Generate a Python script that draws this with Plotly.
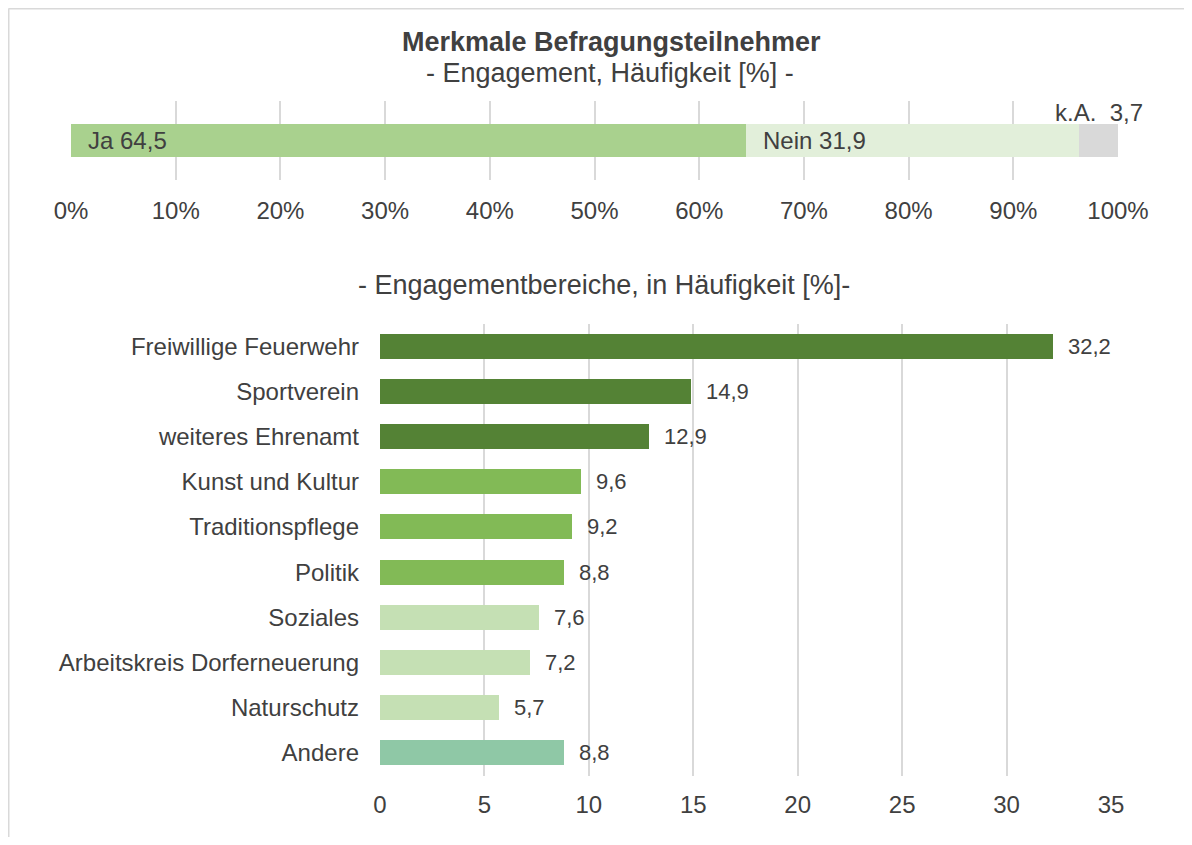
import plotly.graph_objects as go

# --- data ---------------------------------------------------------------
engagement_names = ["Ja", "Nein", "k.A."]
engagement_values = [64.5, 31.9, 3.7]
engagement_colors = ["#A9D18E", "#E2EFDA", "#D9D9D9"]

bereiche = ["Freiwillige Feuerwehr", "Sportverein", "weiteres Ehrenamt",
            "Kunst und Kultur", "Traditionspflege", "Politik", "Soziales",
            "Arbeitskreis Dorferneuerung", "Naturschutz", "Andere"]
bereiche_values = [32.2, 14.9, 12.9, 9.6, 9.2, 8.8, 7.6, 7.2, 5.7, 8.8]
bereiche_colors = ["#548235", "#548235", "#548235",
                   "#82BA56", "#82BA56", "#82BA56",
                   "#C5E0B4", "#C5E0B4", "#C5E0B4",
                   "#8FC8A6"]

top_ticks = [0, 10, 20, 30, 40, 50, 60, 70, 80, 90, 100]
top_ticktext = [f"{t}%" for t in top_ticks]
bottom_ticks = [0, 5, 10, 15, 20, 25, 30, 35]

# page body has an 8px margin, so the figure is the window minus 16px
W, H = 1176, 829
OFF = 8
FONT = "Liberation Sans, Arial, sans-serif"
TXT = "#404040"
GRID = "#D9D9D9"


def px(x):
    return (x - OFF) / W


def py(y):
    return 1 - (y - OFF) / H


def de(v):
    # german decimal comma
    return f"{v:.1f}".replace(".", ",")


fig = go.Figure()

# --- top: 100% stacked bar ---------------------------------------------
total = sum(engagement_values)
cum = 0
for name, val, col in zip(engagement_names, engagement_values, engagement_colors):
    share = val / total * 100
    fig.add_trace(go.Bar(
        x=[share], y=["Engagement"], orientation="h",
        marker=dict(color=col, line=dict(width=0)),
        width=0.43, name=name, xaxis="x", yaxis="y",
        hoverinfo="skip",
    ))
    if name == "k.A.":
        # label sits above its small segment
        fig.add_annotation(x=cum + share / 2, y="Engagement", xref="x", yref="y",
                           text=f"{name}  {de(val)}", showarrow=False,
                           xanchor="center", yshift=28,
                           font=dict(size=24, color=TXT, family=FONT))
    else:
        fig.add_annotation(x=cum, y="Engagement", xref="x", yref="y",
                           text=f"{name} {de(val)}", showarrow=False,
                           xanchor="left", xshift=15,
                           font=dict(size=24, color=TXT, family=FONT))
    cum += share

# --- bottom: horizontal bars ------------------------------------------
fig.add_trace(go.Bar(
    x=bereiche_values, y=bereiche, orientation="h",
    marker=dict(color=bereiche_colors, line=dict(width=0)),
    width=0.55, xaxis="x2", yaxis="y2", hoverinfo="skip",
))
for cat, val in zip(bereiche, bereiche_values):
    fig.add_annotation(x=val, y=cat, xref="x2", yref="y2", text=de(val),
                       showarrow=False, xanchor="left", xshift=13,
                       font=dict(size=22, color=TXT, family=FONT))

# --- titles ------------------------------------------------------------
titles = [("<b>Merkmale Befragungsteilnehmer</b>", 611, 42),
          ("- Engagement, Häufigkeit [%] -", 610, 73),
          ("- Engagementbereiche, in Häufigkeit [%]-", 604, 285)]
for txt, tx, ty in titles:
    fig.add_annotation(x=px(tx), y=py(ty), xref="paper", yref="paper",
                       text=txt, showarrow=False,
                       xanchor="center", yanchor="middle",
                       font=dict(size=27, color=TXT, family=FONT))

# frame: only left and top edges are visible in the picture
fig.add_shape(type="line", xref="paper", yref="paper",
              x0=px(8.5), x1=px(8.5), y0=0, y1=py(8.5),
              line=dict(color=GRID, width=2), layer="below")
fig.add_shape(type="line", xref="paper", yref="paper",
              x0=px(8.5), x1=1, y0=py(8.5), y1=py(8.5),
              line=dict(color=GRID, width=2), layer="below")

fig.update_layout(
    width=W, height=H,
    margin=dict(l=0, r=0, t=0, b=0, autoexpand=False),
    paper_bgcolor="white", plot_bgcolor="white",
    barmode="stack", showlegend=False,
    font=dict(family=FONT, color=TXT, size=24),
    xaxis=dict(domain=[px(71), px(1118)], anchor="y", range=[0, 100],
               tickmode="array", tickvals=top_ticks, ticktext=top_ticktext,
               showgrid=True, gridcolor=GRID, gridwidth=1.5, zeroline=False,
               showline=False, ticklabelstandoff=14,
               tickfont=dict(size=24, color=TXT), fixedrange=True),
    yaxis=dict(domain=[py(180), py(101)], anchor="x", showticklabels=False,
               showgrid=False, zeroline=False, range=[-0.5, 0.5]),
    xaxis2=dict(domain=[px(380), px(1111)], anchor="y2", range=[0, 35],
                tickvals=bottom_ticks, showgrid=True, gridcolor=GRID,
                gridwidth=1.5, zeroline=False, showline=False,
                ticklabelstandoff=12, tickfont=dict(size=24, color=TXT)),
    yaxis2=dict(domain=[py(775.5), py(323.5)], anchor="x2",
                autorange="reversed", showgrid=False, zeroline=False,
                showline=False, ticklabelstandoff=20,
                tickfont=dict(size=24, color=TXT)),
)

fig.write_html("out.html")
